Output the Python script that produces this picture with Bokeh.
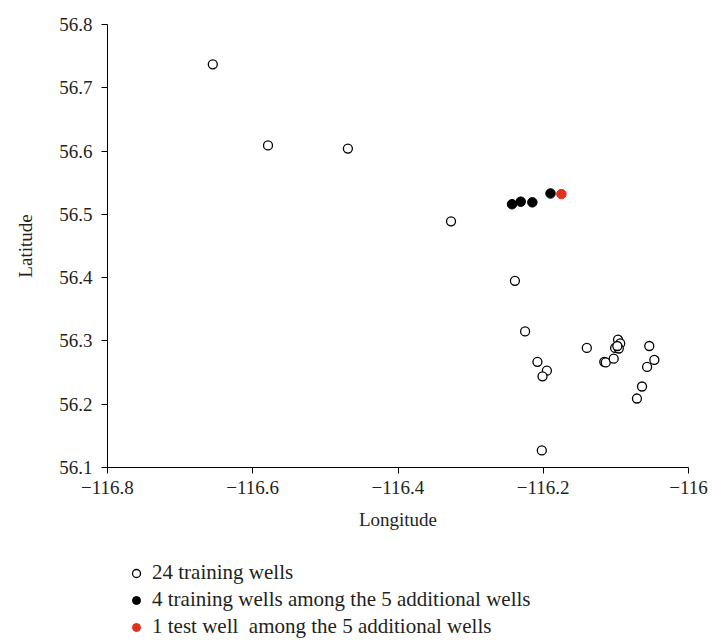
from bokeh.plotting import figure
from bokeh.layouts import column
from bokeh.models import FixedTicker, Legend, LegendItem, Range1d
from bokeh.embed import file_html
from bokeh.resources import INLINE

# 24 training wells (open circles)
train_lon = [-116.655, -116.579, -116.469, -116.327, -116.239, -116.225,
             -116.208, -116.195, -116.201, -116.202, -116.140, -116.116,
             -116.114, -116.103, -116.097, -116.094, -116.101, -116.096,
             -116.098, -116.054, -116.047, -116.057, -116.064, -116.071]
train_lat = [56.737, 56.609, 56.604, 56.489, 56.395, 56.315,
             56.267, 56.253, 56.244, 56.127, 56.289, 56.267,
             56.266, 56.272, 56.302, 56.296, 56.289, 56.288,
             56.292, 56.292, 56.270, 56.259, 56.228, 56.209]

# 4 training wells among the 5 additional wells (black)
add_lon = [-116.243, -116.231, -116.215, -116.190]
add_lat = [56.516, 56.520, 56.519, 56.533]

# 1 test well among the 5 additional wells (red)
test_lon = [-116.175]
test_lat = [56.532]

x_ticks = [-116.8, -116.6, -116.4, -116.2, -116.0]
x_tick_labels = ["\u2212116.8", "\u2212116.6", "\u2212116.4", "\u2212116.2", "\u2212116"]
y_ticks = [56.1, 56.2, 56.3, 56.4, 56.5, 56.6, 56.7, 56.8]
y_tick_labels = ["56.1", "56.2", "56.3", "56.4", "56.5", "56.6", "56.7", "56.8"]

legend_labels = ["24 training wells",
                 "4 training wells among the 5 additional wells",
                 "1 test well  among the 5 additional wells"]

FONT = "Liberation Serif"
TXT = "#231f20"
RED = "#e0301e"

MAIN_H = 545
p = figure(width=713, height=MAIN_H, output_backend="svg", toolbar_location=None,
           x_range=Range1d(-116.8, -116.0), y_range=Range1d(56.1, 56.8),
           min_border_left=107, min_border_right=25, min_border_top=24,
           min_border_bottom=MAIN_H - 467)
p.outline_line_color = None
p.xgrid.visible = False
p.ygrid.visible = False

open_style = dict(size=9, fill_color="white", line_color="black", line_width=1.3)
black_style = dict(size=9.5, fill_color="black", line_color="black")
red_style = dict(size=9.5, fill_color=RED, line_color=RED)

p.scatter(train_lon, train_lat, **open_style)
p.scatter(add_lon, add_lat, **black_style)
p.scatter(test_lon, test_lat, **red_style)

for ax, ticks, labels in ((p.xaxis[0], x_ticks, x_tick_labels),
                          (p.yaxis[0], y_ticks, y_tick_labels)):
    ax.ticker = FixedTicker(ticks=ticks)
    ax.major_label_overrides = {t: l for t, l in zip(ticks, labels)}
    ax.minor_tick_line_color = None
    ax.major_tick_in = 0
    ax.major_tick_out = 6
    ax.axis_line_color = "black"
    ax.major_tick_line_color = "black"
    ax.major_label_text_font = FONT
    ax.major_label_text_font_size = "19px"
    ax.major_label_text_color = TXT
    ax.axis_label_text_font = FONT
    ax.axis_label_text_font_size = "19px"
    ax.axis_label_text_font_style = "normal"
    ax.axis_label_text_color = TXT

p.xaxis.axis_label = "Longitude"
p.yaxis.axis_label = "Latitude"
p.xaxis.major_label_standoff = 7
p.yaxis.major_label_standoff = 9
p.xaxis.axis_label_standoff = 12
p.yaxis.axis_label_standoff = 20

# Legend panel below the chart (swatch points sit outside the visible range)
LEG_H = 641 - MAIN_H
q = figure(width=713, height=LEG_H, output_backend="svg", toolbar_location=None,
           x_range=Range1d(0, 1), y_range=Range1d(0, 1),
           x_axis_location=None, y_axis_location=None,
           min_border=0, min_border_left=0, min_border_right=0,
           min_border_top=0, min_border_bottom=0)
q.outline_line_color = None
q.xgrid.visible = False
q.ygrid.visible = False
l1 = q.scatter([5], [5], **open_style)
l2 = q.scatter([5], [5], **black_style)
l3 = q.scatter([5], [5], **red_style)

legend = Legend(items=[LegendItem(label=legend_labels[0], renderers=[l1]),
                       LegendItem(label=legend_labels[1], renderers=[l2]),
                       LegendItem(label=legend_labels[2], renderers=[l3])],
                location=(19, 2), orientation="vertical",
                border_line_alpha=0, background_fill_alpha=0,
                padding=0, margin=0, spacing=2,
                label_text_font=FONT, label_text_font_size="21px",
                label_text_color=TXT, label_standoff=6,
                glyph_width=20, glyph_height=20, label_height=22)
q.add_layout(legend, "center")

open("out.html", "w").write(file_html(column(p, q), INLINE))
